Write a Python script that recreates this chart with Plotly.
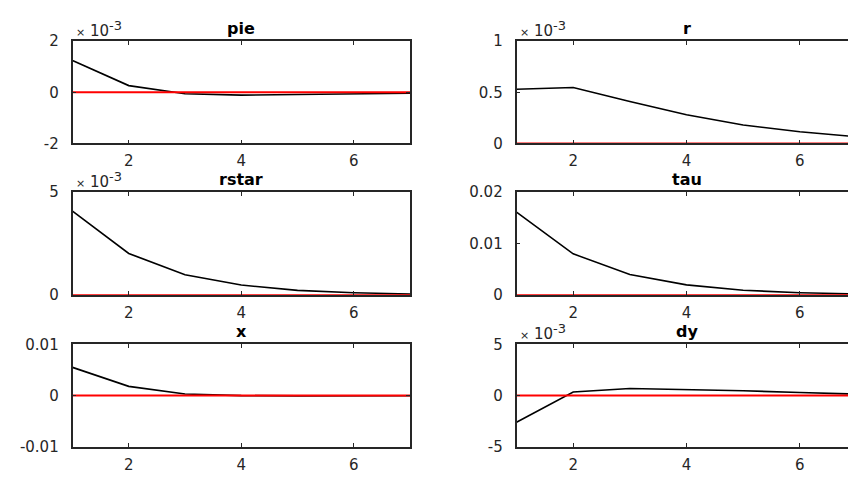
import plotly.graph_objects as go

# Impulse responses over 7 periods
periods = [1, 2, 3, 4, 5, 6, 7]

pie = [1.24e-3, 0.26e-3, -0.06e-3, -0.11e-3, -0.09e-3, -0.06e-3, -0.04e-3]
r = [0.53e-3, 0.547e-3, 0.41e-3, 0.28e-3, 0.18e-3, 0.115e-3, 0.066e-3]
rstar = [4.07e-3, 2.02e-3, 0.99e-3, 0.49e-3, 0.23e-3, 0.12e-3, 0.06e-3]
tau = [0.0161, 0.0080, 0.0040, 0.0020, 0.00095, 0.00048, 0.00025]
x = [0.0055, 0.0018, 0.0003, 0.0, -0.00005, -0.00005, -0.00003]
dy = [-2.6e-3, 0.35e-3, 0.69e-3, 0.60e-3, 0.47e-3, 0.31e-3, 0.15e-3]
steady_state = [0, 0, 0, 0, 0, 0, 0]

# y-axis ticks and their labels per panel
pie_ticks, pie_labels = [-2e-3, 0, 2e-3], ["-2", "0", "2"]
r_ticks, r_labels = [0, 0.5e-3, 1e-3], ["0", "0.5", "1"]
rstar_ticks, rstar_labels = [0, 5e-3], ["0", "5"]
tau_ticks, tau_labels = [0, 0.01, 0.02], ["0", "0.01", "0.02"]
x_ticks, x_labels = [-0.01, 0, 0.01], ["-0.01", "0", "0.01"]
dy_ticks, dy_labels = [-5e-3, 0, 5e-3], ["-5", "0", "5"]

period_ticks = [2, 4, 6]

panels = [
    ("pie", pie, [-2e-3, 2e-3], pie_ticks, pie_labels, True),
    ("r", r, [0, 1e-3], r_ticks, r_labels, True),
    ("rstar", rstar, [0, 5e-3], rstar_ticks, rstar_labels, True),
    ("tau", tau, [0, 0.02], tau_ticks, tau_labels, False),
    ("x", x, [-0.01, 0.01], x_ticks, x_labels, False),
    ("dy", dy, [-5e-3, 5e-3], dy_ticks, dy_labels, True),
]

W, H = 848, 481
left_dom = [72.5 / W, 410 / W]
right_dom = [516.5 / W, 1.0]
row_doms = [
    [1 - 139.7 / H, 1 - 33.3 / H],
    [1 - 297.3 / H, 1 - 190.0 / H],
    [1 - 455.0 / H, 1 - 348.3 / H],
]

FONT = "DejaVu Sans, Verdana, sans-serif"
INK = "#262626"
TICK_SIZE = 15

fig = go.Figure()
layout = dict(
    width=W,
    height=H,
    margin=dict(l=0, r=0, t=0, b=0),
    paper_bgcolor="white",
    plot_bgcolor="white",
    showlegend=False,
    font=dict(family=FONT, size=TICK_SIZE, color=INK),
    annotations=[],
)

for i, (name, vals, yrange, yt, ylab, scaled) in enumerate(panels):
    k = i + 1
    sfx = "" if k == 1 else str(k)
    row, col = divmod(i, 2)
    xa, ya = f"x{sfx}", f"y{sfx}"
    right = col == 1

    fig.add_trace(go.Scatter(x=periods, y=vals, mode="lines",
                             line=dict(color="black", width=1.6),
                             xaxis=xa, yaxis=ya, hoverinfo="skip"))
    fig.add_trace(go.Scatter(x=periods, y=steady_state, mode="lines",
                             line=dict(color="#ff0000", width=2),
                             xaxis=xa, yaxis=ya, hoverinfo="skip"))

    layout[f"xaxis{sfx}"] = dict(
        domain=right_dom if right else left_dom,
        anchor=ya,
        range=[1, 6.85] if right else [1, 7],
        tickvals=period_ticks,
        ticktext=[str(t) for t in period_ticks],
        showgrid=False, zeroline=False,
        showline=True, linecolor=INK, linewidth=1.6,
        mirror="allticks",
        ticks="inside", ticklen=4, tickwidth=1, tickcolor=INK,
        ticklabelstandoff=3,
        tickfont=dict(family=FONT, size=TICK_SIZE, color=INK),
    )
    layout[f"yaxis{sfx}"] = dict(
        domain=row_doms[row],
        anchor=xa,
        range=yrange,
        tickvals=yt,
        ticktext=ylab,
        showgrid=False, zeroline=False,
        showline=True, linecolor=INK, linewidth=1.6,
        mirror=False if right else "allticks",
        ticks="inside", ticklen=4, tickwidth=1, tickcolor=INK,
        ticklabelstandoff=9,
        tickfont=dict(family=FONT, size=TICK_SIZE, color=INK),
    )

    # panel title
    layout["annotations"].append(dict(
        text=f"<b>{name}</b>", xref=xa, x=4, yref=f"{ya} domain", y=1,
        xanchor="center", yanchor="bottom", yshift=1, showarrow=False,
        font=dict(family=FONT, size=16, color="black"),
    ))
    # axis exponent
    if scaled:
        layout["annotations"].append(dict(
            text=('<span style="font-size:11px">×</span> 10'
                  '<sup><span style="font-size:13px">-3</span></sup>'),
            xref=f"{xa} domain", x=0, yref=f"{ya} domain", y=1,
            xanchor="left", yanchor="bottom", align="left",
            xshift=1, yshift=-1, showarrow=False,
            font=dict(family=FONT, size=TICK_SIZE, color=INK),
        ))

fig.update_layout(**layout)
fig.write_html("out.html")
